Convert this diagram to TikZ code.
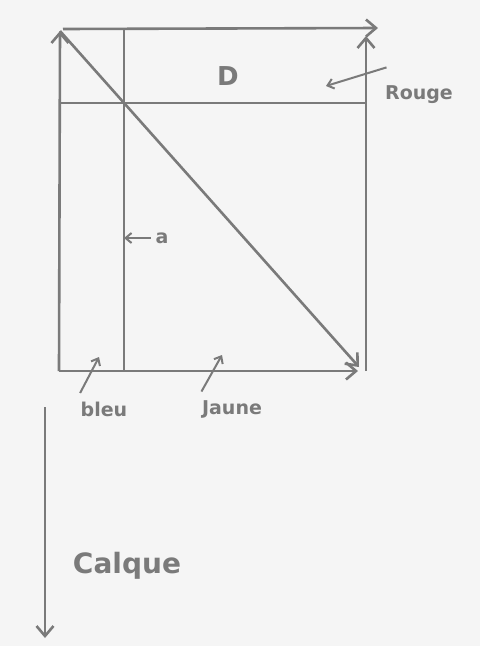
\documentclass[tikz,border=0pt]{standalone}
\usepackage{fontspec}
\setmainfont{DejaVu Sans}
\usepackage{tikz}
\usetikzlibrary{positioning,arrows.meta}
\definecolor{pencil}{RGB}{122,122,122}
\definecolor{paper}{RGB}{245,245,245}

\begin{document}
\begin{tikzpicture}[x=1pt,y=-1pt,line width=2.6pt,draw=pencil,text=pencil,
    bigtip/.style={-{Straight Barb[length=10pt,width=17pt]}},
    smalltip/.style={line width=2pt,-{Straight Barb[length=6pt,width=10pt]}},
    hand/.style={font=\bfseries\fontsize{19}{22}\selectfont}]
    \fill[paper] (0,0) rectangle (480,646);
    \useasboundingbox (0,0) rectangle (480,646);

    % Corners
    \coordinate (tl) at (60,31);
    \coordinate (tr) at (366,29);
    \coordinate (bl) at (59,371);
    \coordinate (br) at (366,371);
    \coordinate (topend) at (378,28);
    \coordinate (rightend) at (366,36);
    \coordinate (bottomend) at (358,371);
    \coordinate (diagend) at (359,367);

    % Frame
    \draw[bigtip] (bl) -- (tl);
    \draw[bigtip] ([xshift=3pt]tl |- tr) -- (topend);
    \draw[bigtip] (br) -- (rightend);
    \draw[bigtip] (bl) -- (bottomend);
    \draw[bigtip] (tl) -- (diagend);

    % Strips
    \coordinate (stript) at (124,29);
    \coordinate (stripb) at (124,371);
    \coordinate (bandl) at (59,103);
    \coordinate (bandr) at (366,103);
    \draw (stript) -- (stripb);
    \draw (bandl) -- (bandr);

    % Labels
    \node[font=\bfseries\fontsize{26}{30}\selectfont] (dlabel) at (228,76) {D};
    \node[hand] (rouge) at (419,95) {Rouge};
    \node[hand] (alabel) at (162,238) {a};
    \node[hand] (bleu) at (104,409) {bleu};
    \node[hand] (jaune) at (232,409) {Jaune};
    \node[font=\bfseries\fontsize{28}{32}\selectfont] (calque) at (127,566) {Calque};

    \draw[smalltip] ([shift={(6,-14)}]rouge.north west) -- (326,86);
    \draw[smalltip] ([shift={(4,-4)}]bleu.north west) -- (99,357);
    \draw[smalltip] ([shift={(4,-4)}]jaune.north west) -- (222,355);
    \draw[smalltip] (alabel.west) -- (stripb |- alabel.west);

    % Calque
    \coordinate (calquetop) at (45,407);
    \coordinate (calqueend) at (45,638);
    \draw[bigtip] (calquetop) -- (calqueend);
\end{tikzpicture}
\end{document}
